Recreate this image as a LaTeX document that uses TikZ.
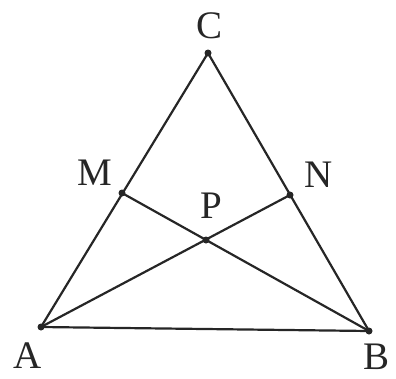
\documentclass[tikz,border=0pt]{standalone}
\usepackage{fontspec}
\setmainfont{Liberation Serif}
\usepackage{tikz}
\usetikzlibrary{calc}

\begin{document}
\begin{tikzpicture}[
        x=1pt, y=-1pt,
        edge/.style = {draw=black!85, line width=2.2pt, line cap=round},
        dot/.style = {circle, fill=black!85, inner sep=0pt, minimum size=7pt},
        lbl/.style = {font=\fontsize{39}{44}\selectfont, inner sep=0pt, text=black!85}
    ]

        \useasboundingbox (0,0) rectangle (396,378);

        % Vertices
        \coordinate (A) at (41,327);
        \coordinate (B) at (369,331);
        \coordinate (C) at (208,53);

        % Points on the sides and crossing
        \coordinate (M) at (122,193);
        \coordinate (N) at (290,195);
        \coordinate (P) at (206,240);

        % Sides
        \draw [edge] (A) -- (B) -- (C) -- cycle;

        % Cevians
        \draw [edge] (A) -- (N);
        \draw [edge] (B) -- (M);

        % Dots
        \foreach \p in {A,B,C,M,N,P}
            \node [dot] at (\p) {};

        % Labels
        \node (labC) [lbl] at (210,26) {C};
        \node (labM) [lbl] at (95,173) {M};
        \node (labN) [lbl] at (319,175) {N};
        \node (labP) [lbl] at (211,206) {P};
        \node (labA) [lbl] at (28,356) {A};
        \node (labB) [lbl] at (377,357) {B};

    \end{tikzpicture}
\end{document}
